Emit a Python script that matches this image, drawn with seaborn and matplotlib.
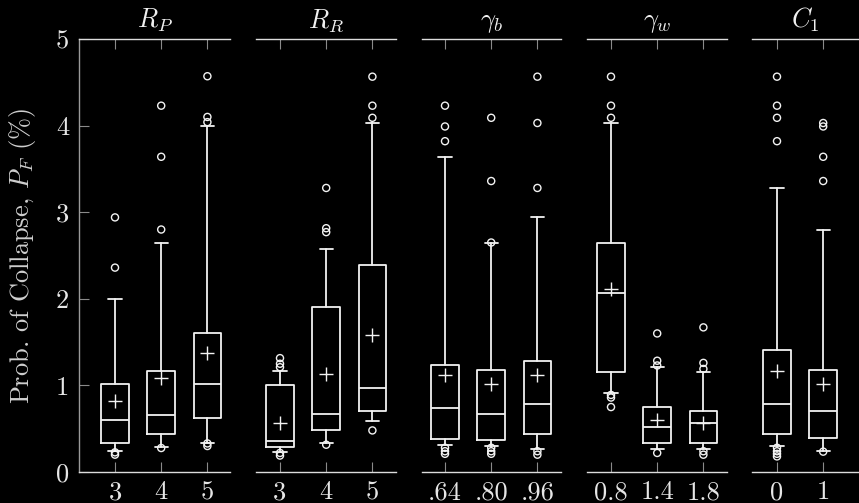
import matplotlib
matplotlib.use("Agg")
import matplotlib.pyplot as plt
import seaborn as sns
import pandas as pd

# ---------------- data ----------------
panel_titles = ["$R_P$", "$R_R$", r"$\gamma_b$", r"$\gamma_w$", "$C_1$"]
tick_labels = [["3", "4", "5"], ["3", "4", "5"], [".64", ".80", ".96"],
               ["0.8", "1.4", "1.8"], ["0", "1"]]

q1 = [[0.33, 0.44, 0.62], [0.285, 0.49, 0.70], [0.38, 0.365, 0.44],
      [1.16, 0.335, 0.335], [0.44, 0.39]]
medians = [[0.60, 0.66, 1.015], [0.354, 0.665, 0.965], [0.735, 0.665, 0.79],
           [2.07, 0.52, 0.57], [0.79, 0.70]]
q3 = [[1.015, 1.17, 1.60], [1.00, 1.90, 2.385], [1.235, 1.18, 1.285],
      [2.64, 0.754, 0.70], [1.41, 1.18]]
whis_lo = [[0.24, 0.285, 0.34], [0.23, 0.335, 0.585], [0.31, 0.30, 0.27],
           [0.91, 0.27, 0.26], [0.30, 0.245]]
whis_hi = [[2.00, 2.64, 3.99], [1.165, 2.58, 4.03], [3.64, 2.64, 2.94],
           [4.03, 1.21, 1.15], [3.28, 2.80]]
means = [[0.82, 1.08, 1.37], [0.565, 1.13, 1.585], [1.12, 1.015, 1.125],
         [2.11, 0.60, 0.57], [1.17, 1.015]]
fliers = [
    [[2.94, 2.36, 0.227, 0.20], [4.23, 3.64, 2.80, 0.277], [4.57, 4.10, 4.04, 0.33, 0.30]],
    [[1.315, 1.25, 1.21, 0.22, 0.19], [3.28, 2.815, 2.77, 0.315], [4.565, 4.23, 4.09, 0.48]],
    [[4.23, 3.99, 3.82, 0.28, 0.24, 0.21], [4.09, 3.36, 2.65, 0.28, 0.24, 0.21],
     [4.565, 4.03, 3.28, 0.24, 0.20]],
    [[4.565, 4.23, 4.09, 0.89, 0.86, 0.75], [1.60, 1.285, 1.23, 0.22],
     [1.67, 1.26, 1.19, 0.24, 0.20]],
    [[4.565, 4.23, 4.09, 3.82, 0.28, 0.24, 0.21, 0.18], [4.03, 3.99, 3.64, 3.36, 0.235]],
]
y_ticks = [0, 1, 2, 3, 4, 5]
y_label = "Prob. of Collapse, $P_F$ (%)"

# ---------------- style ----------------
sns.set_theme(style="dark")
plt.rcParams.update({
    "figure.facecolor": "black",
    "axes.facecolor": "black",
    "savefig.facecolor": "black",
    "mathtext.fontset": "cm",
    "axes.formatter.use_mathtext": True,
    "axes.grid": False,
})
plt.rcParams["font.family"] = ["cmr10", "DejaVu Serif"]

W, H = 859, 503
fig = plt.figure(figsize=(W / 100, H / 100), dpi=100)

# pixel layout: (left, right, first tick position)
layout = [(79, 230, 115), (256, 396, 280), (422, 561, 445), (587, 727, 611), (752, 859, 777)]
step = 46.2
top_px, bot_px = 39, 472

box_col = "#f2f2f2"
tick_col = "#8a8a8a"
spine_col = "#dcdcdc"
FS = 19

for i, (l, r, t0) in enumerate(layout):
    ax = fig.add_axes([l / W, 1 - bot_px / H, (r - l) / W, (bot_px - top_px) / H])
    n = len(tick_labels[i])
    stats = []
    for j in range(n):
        stats.append(dict(med=medians[i][j], q1=q1[i][j], q3=q3[i][j],
                          whislo=whis_lo[i][j], whishi=whis_hi[i][j],
                          mean=means[i][j], fliers=[]))
    ax.bxp(stats, positions=list(range(n)), widths=0.6, showfliers=False,
           showmeans=False, manage_ticks=False,
           boxprops=dict(color=box_col, linewidth=1.3),
           whiskerprops=dict(color=box_col, linewidth=1.3),
           capprops=dict(color=box_col, linewidth=1.3),
           medianprops=dict(color=box_col, linewidth=1.3),
           capwidths=0.29)
    fl = pd.DataFrame([(j, v) for j in range(n) for v in fliers[i][j]], columns=["x", "y"])
    sns.scatterplot(data=fl, x="x", y="y", ax=ax, marker="o", s=26,
                    facecolor="none", edgecolor=box_col, linewidth=1.0, legend=False)
    mn = pd.DataFrame({"x": list(range(n)), "y": means[i]})
    sns.scatterplot(data=mn, x="x", y="y", ax=ax, marker="+", s=90,
                    color=box_col, linewidth=1.0, legend=False)

    ax.set_xlim((l - t0) / step, (r - t0) / step)
    ax.set_ylim(0, 5)
    ax.set_xticks(range(n))
    ax.set_xticklabels(tick_labels[i], fontsize=FS, color="#e6e6e6")
    ax.tick_params(axis="x", direction="in", top=True, bottom=True, length=7,
                   width=0.8, color=tick_col, pad=6)
    ax.set_xlabel("")
    ax.set_ylabel("")
    ax.set_title(panel_titles[i], fontsize=FS, color="#f0f0f0", pad=8.5)
    for s in ["top", "bottom"]:
        ax.spines[s].set_visible(True)
        ax.spines[s].set_color(spine_col)
        ax.spines[s].set_linewidth(1.0)
    ax.spines["right"].set_visible(False)
    if i == 0:
        ax.spines["left"].set_visible(True)
        ax.spines["left"].set_color("#9a9a9a")
        ax.spines["left"].set_linewidth(1.0)
        ax.set_yticks(y_ticks)
        ax.set_yticklabels([str(v) for v in y_ticks], fontsize=FS, color="#e6e6e6")
        ax.tick_params(axis="y", direction="in", left=True, length=7, width=0.8,
                       color=tick_col, pad=7)
        ax.set_ylabel(y_label, fontsize=19, color="#cfcfcf")
        ax.yaxis.set_label_coords(-0.27, 0.5)
    else:
        ax.spines["left"].set_visible(False)
        ax.set_yticks([])

fig.savefig("out.png", dpi=100)
